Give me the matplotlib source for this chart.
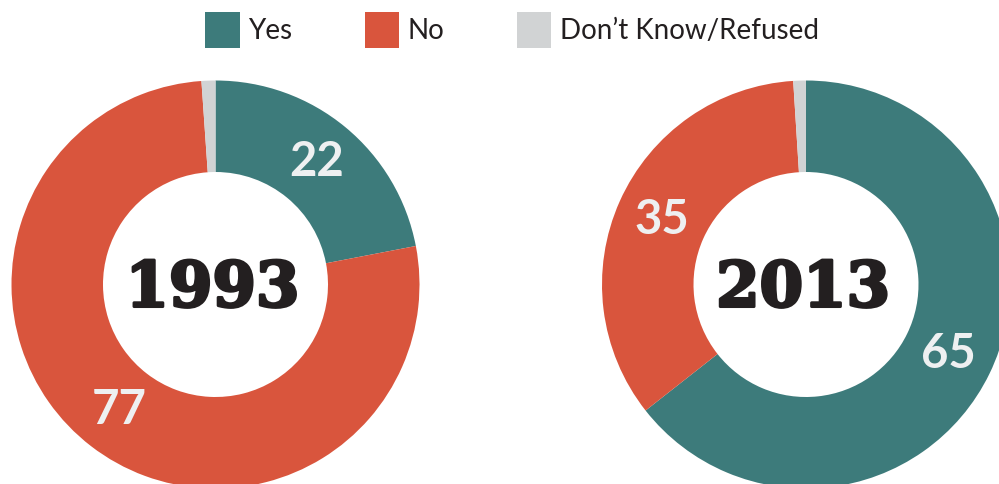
import matplotlib.pyplot as plt
import matplotlib.patheffects as pe
from matplotlib.patches import Patch

# survey answers, percent
years = ['1993', '2013']
yes = [22, 64.4]
no = [77, 34.6]
dont_know = [1.1, 1.0]
yes_labels = ['22', '65']
no_labels = ['77', '35']

categories = ['Yes', 'No', 'Don\u2019t Know/Refused']
colors = ['#3d7b7b', '#d9553d', '#d1d3d4']

fig = plt.figure(figsize=(9.99, 4.84), dpi=100)
ax = fig.add_axes([0, 0, 1, 1])

# donut centres in pixel units (axes spans the whole figure)
centers = [(215.5, 199.5), (806, 199.5)]
outer = 204
ring = 91.5

for i, year in enumerate(years):
    cx, cy = centers[i]
    wedges, texts = ax.pie(
        [yes[i], no[i], dont_know[i]],
        colors=colors,
        startangle=90,
        counterclock=False,
        radius=outer,
        center=(cx, cy),
        labels=[yes_labels[i], no_labels[i], ''],
        labeldistance=(outer - ring / 2) / outer,
        wedgeprops=dict(width=ring, linewidth=0),
        textprops=dict(color='#eef0f1', fontsize=34, fontweight='bold', family='Lato'),
    )
    for t in texts:
        t.set_ha('center')
        t.set_va('center')
    ax.text(cx - 3, cy - 22, year, ha='center', va='baseline', fontsize=45,
            fontweight='bold', family='DejaVu Serif', color='#231f20',
            path_effects=[pe.withStroke(linewidth=2.2, foreground='#231f20')])

ax.set_xlim(0, 999)
ax.set_ylim(0, 484)
ax.set_aspect('equal')
ax.axis('off')

handles = [Patch(facecolor=c, edgecolor='none', label=l) for c, l in zip(colors, categories)]
leg = ax.legend(handles=handles, ncol=3, loc='center', bbox_to_anchor=(512 / 999, 1 - 30 / 484),
                frameon=False, prop={'family': 'Lato', 'size': 20},
                handlelength=1.25, handleheight=1.6, handletextpad=0.3, columnspacing=2.6)
for t in leg.get_texts():
    t.set_color('#231f20')

fig.savefig('out.png', dpi=100)
